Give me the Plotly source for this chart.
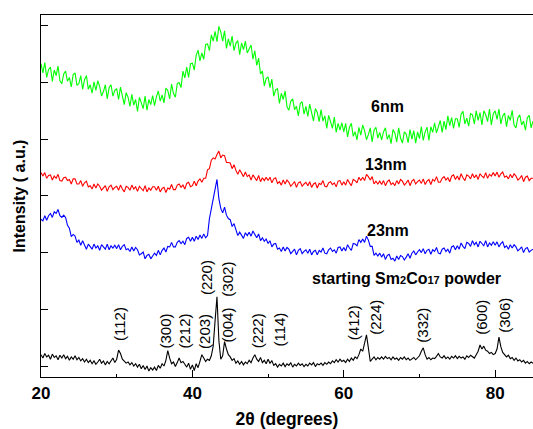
import plotly.graph_objects as go

# 2-theta sampling: each row starts at row_start and steps by 0.25 degrees
row_starts = [20, 25, 30, 35, 40, 45, 50, 55, 60, 65, 70, 75, 80]
step = 0.25

green_6nm = [
    [5.33, 5.17, 5.35, 5.09, 5.23, 5.27, 5.02, 5.22, 5.12, 5.29, 5.03, 4.98, 5.15, 5.20, 5.02, 5.09, 4.92, 5.14, 5.17, 4.95],
    [4.98, 5.12, 4.88, 5.05, 5.12, 4.88, 4.96, 4.81, 5.01, 4.86, 5.03, 4.93, 4.76, 4.84, 4.96, 4.71, 4.91, 4.96, 4.76, 4.86],
    [4.89, 4.70, 4.92, 4.74, 4.61, 4.82, 4.74, 4.58, 4.79, 4.60, 4.70, 4.49, 4.74, 4.64, 4.54, 4.76, 4.51, 4.70, 4.61, 4.77],
    [4.59, 4.75, 4.85, 4.67, 4.78, 4.64, 4.90, 4.86, 4.71, 4.97, 4.81, 4.74, 4.98, 5.00, 4.91, 5.20, 5.08, 5.27, 5.09, 5.33],
    [5.34, 5.22, 5.48, 5.57, 5.38, 5.52, 5.41, 5.67, 5.68, 5.56, 5.84, 5.73, 5.90, 5.72, 5.99, 5.89, 5.73, 5.91, 5.60, 5.77],
    [5.64, 5.82, 5.56, 5.69, 5.74, 5.49, 5.70, 5.58, 5.73, 5.52, 5.59, 5.66, 5.41, 5.56, 5.30, 5.43, 5.15, 5.20, 4.94, 5.07],
    [5.10, 4.91, 5.06, 4.76, 4.87, 4.89, 4.63, 4.81, 4.70, 4.85, 4.57, 4.51, 4.67, 4.71, 4.52, 4.58, 4.41, 4.63, 4.66, 4.44],
    [4.58, 4.40, 4.62, 4.45, 4.32, 4.54, 4.47, 4.31, 4.52, 4.32, 4.41, 4.19, 4.42, 4.31, 4.19, 4.39, 4.12, 4.28, 4.16, 4.29],
    [4.13, 4.28, 4.04, 4.21, 4.28, 4.05, 4.13, 3.99, 4.21, 4.07, 4.25, 4.15, 3.99, 4.08, 4.20, 3.95, 4.16, 4.21, 4.02, 4.12],
    [3.99, 4.13, 4.20, 4.00, 4.08, 3.92, 4.17, 4.11, 3.95, 4.20, 4.02, 3.93, 4.13, 4.09, 3.94, 4.17, 4.00, 4.15, 3.93, 4.13],
    [4.01, 4.22, 3.98, 4.13, 4.21, 3.98, 4.22, 4.12, 4.29, 4.11, 4.22, 4.33, 4.12, 4.32, 4.17, 4.41, 4.24, 4.38, 4.19, 4.36],
    [4.36, 4.21, 4.44, 4.49, 4.27, 4.37, 4.23, 4.45, 4.43, 4.27, 4.50, 4.33, 4.47, 4.25, 4.50, 4.43, 4.31, 4.53, 4.25, 4.45],
    [4.50, 4.35, 4.53, 4.27, 4.41, 4.46, 4.22, 4.42, 4.33, 4.51, 4.25, 4.20, 4.38, 4.43, 4.25, 4.32, 4.16, 4.38, 4.42, 4.20, 4.32],
]

red_13nm = [
    [3.41, 3.35, 3.41, 3.31, 3.36, 3.37, 3.28, 3.35, 3.31, 3.38, 3.27, 3.26, 3.32, 3.33, 3.27, 3.29, 3.21, 3.30, 3.30, 3.21],
    [3.21, 3.27, 3.17, 3.23, 3.26, 3.16, 3.18, 3.12, 3.21, 3.14, 3.21, 3.17, 3.10, 3.14, 3.18, 3.08, 3.16, 3.19, 3.11, 3.15],
    [3.17, 3.10, 3.19, 3.12, 3.07, 3.17, 3.15, 3.10, 3.19, 3.12, 3.16, 3.08, 3.17, 3.13, 3.09, 3.18, 3.07, 3.14, 3.10, 3.16],
    [3.16, 3.10, 3.17, 3.07, 3.13, 3.15, 3.06, 3.14, 3.12, 3.20, 3.11, 3.11, 3.19, 3.21, 3.15, 3.19, 3.12, 3.22, 3.24, 3.16],
    [3.18, 3.26, 3.18, 3.26, 3.30, 3.24, 3.31, 3.31, 3.46, 3.48, 3.63, 3.67, 3.65, 3.73, 3.79, 3.67, 3.72, 3.71, 3.59, 3.59],
    [3.58, 3.48, 3.55, 3.45, 3.38, 3.46, 3.41, 3.34, 3.42, 3.34, 3.37, 3.28, 3.37, 3.32, 3.27, 3.36, 3.25, 3.32, 3.27, 3.33],
    [3.27, 3.33, 3.23, 3.30, 3.32, 3.22, 3.25, 3.19, 3.28, 3.21, 3.28, 3.24, 3.17, 3.21, 3.25, 3.15, 3.23, 3.25, 3.17, 3.21],
    [3.24, 3.18, 3.25, 3.15, 3.21, 3.23, 3.14, 3.22, 3.20, 3.27, 3.17, 3.16, 3.23, 3.25, 3.20, 3.23, 3.16, 3.26, 3.27, 3.19],
    [3.25, 3.19, 3.29, 3.23, 3.18, 3.29, 3.27, 3.23, 3.33, 3.27, 3.33, 3.27, 3.38, 3.34, 3.28, 3.34, 3.21, 3.26, 3.21, 3.26],
    [3.20, 3.27, 3.18, 3.25, 3.28, 3.20, 3.23, 3.18, 3.27, 3.21, 3.29, 3.26, 3.19, 3.23, 3.28, 3.18, 3.26, 3.29, 3.21, 3.25],
    [3.28, 3.22, 3.30, 3.20, 3.26, 3.29, 3.20, 3.29, 3.26, 3.34, 3.24, 3.24, 3.31, 3.34, 3.28, 3.32, 3.25, 3.35, 3.37, 3.29],
    [3.35, 3.28, 3.39, 3.32, 3.27, 3.37, 3.35, 3.30, 3.39, 3.32, 3.37, 3.29, 3.39, 3.35, 3.32, 3.41, 3.31, 3.38, 3.35, 3.41],
    [3.35, 3.42, 3.33, 3.39, 3.42, 3.33, 3.35, 3.30, 3.38, 3.32, 3.39, 3.35, 3.28, 3.31, 3.36, 3.25, 3.33, 3.35, 3.27, 3.31, 3.31],
]

blue_23nm = [
    [2.59, 2.56, 2.65, 2.57, 2.65, 2.69, 2.62, 2.72, 2.69, 2.76, 2.65, 2.62, 2.66, 2.62, 2.48, 2.43, 2.28, 2.32, 2.29, 2.18],
    [2.22, 2.13, 2.21, 2.12, 2.06, 2.15, 2.11, 2.06, 2.15, 2.08, 2.12, 2.04, 2.14, 2.10, 2.06, 2.15, 2.05, 2.12, 2.08, 2.13],
    [2.07, 2.14, 2.05, 2.11, 2.14, 2.05, 2.07, 2.02, 2.10, 2.03, 2.09, 2.05, 1.96, 1.98, 2.01, 1.89, 1.95, 1.97, 1.89, 1.94],
    [1.99, 1.95, 2.04, 1.96, 2.04, 2.08, 2.01, 2.11, 2.10, 2.18, 2.10, 2.10, 2.18, 2.21, 2.16, 2.20, 2.14, 2.25, 2.27, 2.20],
    [2.27, 2.20, 2.29, 2.23, 2.31, 2.25, 2.33, 2.26, 2.30, 2.60, 2.78, 2.95, 3.18, 3.29, 2.95, 2.78, 2.70, 2.80, 2.66, 2.60],
    [2.58, 2.46, 2.51, 2.39, 2.30, 2.36, 2.31, 2.25, 2.35, 2.30, 2.36, 2.29, 2.38, 2.32, 2.26, 2.33, 2.21, 2.26, 2.20, 2.24],
    [2.16, 2.21, 2.10, 2.15, 2.16, 2.06, 2.08, 2.02, 2.10, 2.03, 2.09, 2.06, 1.98, 2.02, 2.06, 1.96, 2.04, 2.07, 1.98, 2.02],
    [2.05, 1.99, 2.06, 1.96, 2.02, 2.04, 1.96, 2.04, 2.01, 2.08, 1.99, 1.98, 2.05, 2.08, 2.02, 2.05, 1.99, 2.09, 2.10, 2.03],
    [2.09, 2.03, 2.14, 2.08, 2.04, 2.16, 2.15, 2.12, 2.23, 2.18, 2.24, 2.18, 2.29, 2.22, 2.11, 2.11, 1.95, 1.99, 1.94, 1.99],
    [1.92, 1.98, 1.88, 1.95, 1.97, 1.88, 1.90, 1.85, 1.94, 1.88, 1.95, 1.93, 1.87, 1.92, 1.98, 1.90, 1.99, 2.03, 1.96, 2.01],
    [2.05, 2.00, 2.07, 1.98, 2.04, 2.06, 1.97, 2.05, 2.02, 2.09, 1.99, 1.98, 2.06, 2.08, 2.02, 2.06, 1.99, 2.10, 2.12, 2.05],
    [2.12, 2.06, 2.17, 2.11, 2.07, 2.18, 2.16, 2.11, 2.21, 2.14, 2.18, 2.10, 2.20, 2.16, 2.12, 2.21, 2.10, 2.17, 2.13, 2.19],
    [2.13, 2.19, 2.10, 2.16, 2.19, 2.09, 2.12, 2.06, 2.14, 2.08, 2.14, 2.10, 2.03, 2.06, 2.10, 2.00, 2.07, 2.09, 2.01, 2.04, 2.06],
]

black_powder = [
    [0.20, 0.14, 0.22, 0.16, 0.19, 0.12, 0.21, 0.15, 0.18, 0.11, 0.19, 0.14, 0.20, 0.13, 0.17, 0.10, 0.16, 0.12, 0.18, 0.11],
    [0.15, 0.09, 0.13, 0.07, 0.12, 0.06, 0.10, 0.04, 0.09, 0.03, 0.07, 0.12, 0.05, 0.09, 0.02, 0.08, 0.04, 0.10, 0.14, 0.06],
    [0.12, 0.28, 0.22, 0.12, 0.08, 0.05, 0.07, 0.02, 0.06, 0.00, 0.04, -0.02, 0.03, -0.05, 0.01, -0.06, 0.00, -0.09, -0.03, -0.07],
    [-0.02, -0.08, 0.01, -0.04, 0.04, 0.00, 0.10, 0.27, 0.14, 0.04, 0.07, -0.01, 0.06, 0.14, 0.06, 0.08, 0.03, -0.02, 0.05, -0.06],
    [0.02, -0.08, 0.04, -0.03, 0.08, 0.20, 0.14, 0.08, 0.12, 0.10, 0.18, 0.35, 0.80, 1.22, 0.45, 0.12, 0.18, 0.43, 0.30, 0.20],
    [0.16, 0.10, 0.13, 0.05, 0.09, 0.03, 0.08, 0.02, 0.07, 0.04, 0.10, 0.06, 0.14, 0.20, 0.12, 0.08, 0.15, 0.06, 0.10, 0.04],
    [0.12, 0.05, 0.09, 0.01, 0.04, -0.02, 0.03, 0.00, 0.05, -0.01, 0.04, 0.01, 0.06, -0.02, 0.03, 0.00, 0.05, 0.01, 0.04, -0.01],
    [0.03, 0.00, 0.05, 0.02, 0.06, -0.01, 0.04, 0.02, 0.05, 0.01, 0.06, 0.03, 0.07, 0.04, 0.09, 0.06, 0.11, 0.07, 0.12, 0.08],
    [0.10, 0.06, 0.12, 0.08, 0.14, 0.10, 0.16, 0.13, 0.20, 0.30, 0.26, 0.40, 0.55, 0.32, 0.08, 0.12, 0.16, 0.11, 0.15, 0.12],
    [0.16, 0.12, 0.17, 0.13, 0.15, 0.11, 0.16, 0.12, 0.14, 0.10, 0.15, 0.12, 0.16, 0.11, 0.14, 0.10, 0.13, 0.15, 0.11, 0.14],
    [0.18, 0.26, 0.32, 0.20, 0.12, 0.15, 0.11, 0.14, 0.13, 0.17, 0.22, 0.16, 0.14, 0.18, 0.13, 0.16, 0.12, 0.17, 0.14, 0.18],
    [0.13, 0.17, 0.14, 0.16, 0.12, 0.18, 0.15, 0.19, 0.16, 0.14, 0.20, 0.26, 0.37, 0.30, 0.35, 0.28, 0.26, 0.22, 0.24, 0.20],
    [0.22, 0.30, 0.51, 0.34, 0.24, 0.20, 0.16, 0.19, 0.13, 0.15, 0.10, 0.14, 0.09, 0.11, 0.07, 0.10, 0.05, 0.08, 0.04, 0.07, 0.05],
]

# peak indexing of the starting powder
peak_hkl = ["(112)", "(300)", "(212)", "(203)", "(220)", "(302)", "(004)", "(222)",
            "(114)", "(412)", "(224)", "(332)", "(600)", "(306)"]
peak_x = [30.3, 36.4, 38.9, 41.6, 41.8, 44.7, 44.7, 48.6, 51.5, 61.2, 64.2, 70.4, 78.2, 81.2]
peak_label_y = [0.74, 0.61, 0.61, 0.61, 1.55, 1.54, 0.73, 0.62, 0.65, 0.77, 0.86, 0.72, 0.86, 0.89]

series_names = ["6nm", "13nm", "23nm",
                "starting Sm<span style='font-size:11px'>2</span>Co<span style='font-size:11px'>17</span> powder"]
series_colors = ["#00ff00", "#ff0000", "#0000ff", "#000000"]
series_data = [green_6nm, red_13nm, blue_23nm, black_powder]
name_x = [65.8, 65.6, 65.9, 68.3]
name_y = [4.58, 3.55, 2.39, 1.55]


def flatten(rows):
    xs, ys = [], []
    for start, row in zip(row_starts, rows):
        for i, v in enumerate(row):
            xs.append(start + step * i)
            ys.append(v)
    return xs, ys


fig = go.Figure()
for data, color in zip(series_data, series_colors):
    xs, ys = flatten(data)
    fig.add_trace(go.Scatter(x=xs, y=ys, mode="lines",
                             line=dict(color=color, width=1.1),
                             showlegend=False, hoverinfo="skip"))

font_family = "Liberation Sans, Arial, sans-serif"

annotations = []
for txt, x, y in zip(peak_hkl, peak_x, peak_label_y):
    annotations.append(dict(x=x, y=y, text=txt, textangle=-90, showarrow=False,
                            xanchor="center", yanchor="middle",
                            font=dict(family=font_family, size=15, color="black")))
for txt, x, y in zip(series_names, name_x, name_y):
    annotations.append(dict(x=x, y=y, text="<b>" + txt + "</b>", showarrow=False,
                            xanchor="center", yanchor="middle",
                            font=dict(family=font_family, size=16, color="black")))

fig.update_layout(
    width=533, height=429,
    margin=dict(l=41, r=0, t=15, b=52),
    paper_bgcolor="white", plot_bgcolor="white",
    annotations=annotations,
    font=dict(family=font_family, color="black"),
)

fig.update_xaxes(
    range=[20, 85], showgrid=False, zeroline=False,
    showline=True, linecolor="black", linewidth=1.3, mirror=True,
    ticks="inside", ticklen=7, tickwidth=1, tickcolor="black",
    tickmode="array", tickvals=[20, 40, 60, 80], ticktext=["<b>20</b>", "<b>40</b>", "<b>60</b>", "<b>80</b>"],
    tickfont=dict(family=font_family, size=17, color="black"),
    minor=dict(ticks="inside", ticklen=3, tickwidth=1, tickcolor="black", tickvals=[30, 50, 70]),
    title=dict(text="<b>2θ (degrees)</b>", font=dict(family=font_family, size=17.5, color="black"), standoff=14),
)
fig.update_yaxes(
    range=[-0.194, 6.19], showgrid=False, zeroline=False,
    showline=True, linecolor="black", linewidth=1.3, mirror=False,
    ticks="inside", ticklen=7, tickwidth=1, tickcolor="black",
    tickmode="array", tickvals=[0, 1, 2, 3, 4, 5, 6], showticklabels=False,
    title=dict(text="<b>Intensity ( a.u.)</b>", font=dict(family=font_family, size=16, color="black"), standoff=10),
)

fig.write_html("out.html")
